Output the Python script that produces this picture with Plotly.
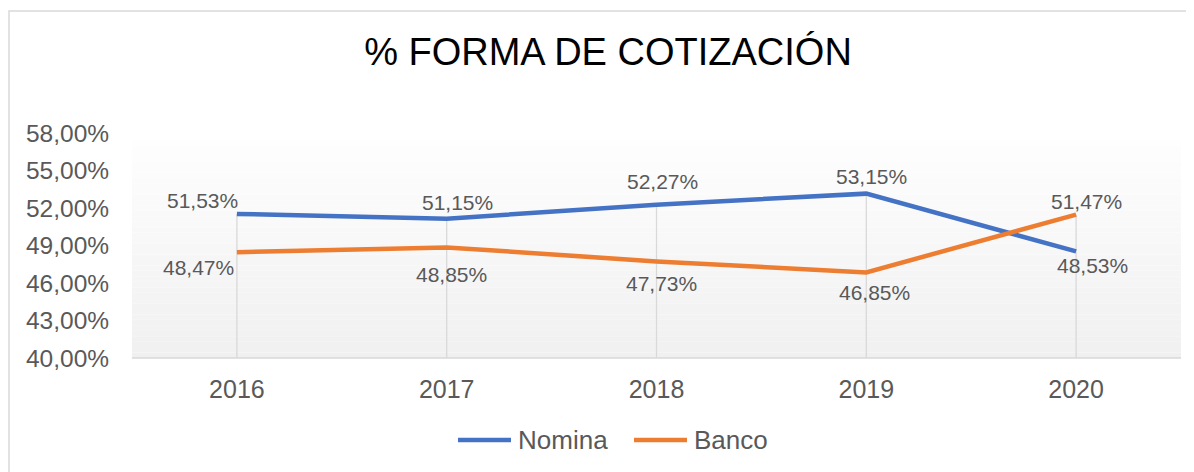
import plotly.graph_objects as go

years = ["2016", "2017", "2018", "2019", "2020"]
nomina = [51.53, 51.15, 52.27, 53.15, 48.53]
banco = [48.47, 48.85, 47.73, 46.85, 51.47]
nomina_labels = ["51,53%", "51,15%", "52,27%", "53,15%", "48,53%"]
banco_labels = ["48,47%", "48,85%", "47,73%", "46,85%", "51,47%"]
y_ticks = [40, 43, 46, 49, 52, 55, 58]
y_tick_labels = ["40,00%", "43,00%", "46,00%", "49,00%", "52,00%", "55,00%", "58,00%"]
series_names = ["Nomina", "Banco"]
series_colors = ["#4472C4", "#ED7D31"]

# label offsets in pixels (style only): (dx, dy) with dy positive = down
nom_off = [(-34, -13), (11, -16), (6, -23), (5, -17), (16, 14)]
ban_off = [(-38, 15), (5, 27), (5, 22), (8, 20), (10, -13)]

OFF = 8  # page body margin
W, H = 1194 - OFF, 472 - OFF
L = 132 - OFF
T = 133 - OFF
R = W - (1181 - OFF)
B = H - (358 - OFF)
pw, ph = W - L - R, H - T - B

def px_x(px):
    return (px - OFF - L) / pw

def px_y(py):
    return (H - B - (py - OFF)) / ph

FONT = "Liberation Sans, Arial"
GRAY = "#595959"

fig = go.Figure()

# drop lines
dx, dy = [], []
for i, yr in enumerate(years):
    dx += [yr, yr, None]
    dy += [40, max(nomina[i], banco[i]), None]
fig.add_trace(go.Scatter(x=dx, y=dy, mode="lines", line=dict(color="#d9d9d9", width=1.3),
                         showlegend=False, hoverinfo="skip"))

for name, vals, col in zip(series_names, [nomina, banco], series_colors):
    fig.add_trace(go.Scatter(x=years, y=vals, name=name, mode="lines",
                             line=dict(color=col, width=4.5), showlegend=False))

annotations = []
for vals, labels, offs in [(nomina, nomina_labels, nom_off), (banco, banco_labels, ban_off)]:
    for i, (v, lab, (ox, oy)) in enumerate(zip(vals, labels, offs)):
        annotations.append(dict(x=i, y=v, xref="x", yref="y", text=lab, showarrow=False,
                                xanchor="center", yanchor="middle", xshift=ox, yshift=-oy,
                                font=dict(family=FONT, size=21, color=GRAY)))

shapes = []
# gradient plot background
n = 40
top = px_y(140)
for k in range(n):
    y0 = top * k / n
    y1 = top * (k + 1) / n
    t = (k + 0.5) / n
    c = int(round(240 + (254 - 240) * t))
    shapes.append(dict(type="rect", xref="paper", yref="paper", x0=0, x1=1, y0=y0, y1=y1,
                       fillcolor=f"rgb({c},{c},{c})", line=dict(width=0), layer="below"))
# x axis line
shapes.append(dict(type="line", xref="paper", yref="paper", x0=0, x1=1, y0=0, y1=0,
                   line=dict(color="#d9d9d9", width=1.5), layer="above"))
# outer border
shapes.append(dict(type="rect", xref="paper", yref="paper",
                   x0=px_x(9), x1=px_x(1200), y0=px_y(490), y1=px_y(11),
                   line=dict(color="#d9d9d9", width=1.5), fillcolor="rgba(0,0,0,0)"))

# legend (drawn manually to match long line swatches)
leg_items = [(458, 511, 516), (634, 687, 692)]
for (lx0, lx1, tx), name, col in zip(leg_items, series_names, series_colors):
    shapes.append(dict(type="line", xref="paper", yref="paper",
                       x0=px_x(lx0), x1=px_x(lx1), y0=px_y(440), y1=px_y(440),
                       line=dict(color=col, width=4.5)))
    annotations.append(dict(x=px_x(tx), y=px_y(440), xref="paper", yref="paper", text=name,
                            showarrow=False, xanchor="left", yanchor="middle",
                            font=dict(family=FONT, size=26, color=GRAY)))

fig.update_layout(
    width=W, height=H,
    margin=dict(l=L, r=R, t=T, b=B),
    paper_bgcolor="white", plot_bgcolor="rgba(0,0,0,0)",
    showlegend=False,
    title=dict(text="% FORMA DE COTIZACIÓN", x=(608 - OFF) / W, xanchor="center",
               y=1 - (52 - OFF) / H, yanchor="middle",
               font=dict(family=FONT, size=38, color="#000000")),
    xaxis=dict(type="category", showgrid=False, zeroline=False, showline=False,
               tickfont=dict(family=FONT, size=25, color=GRAY),
               ticks="outside", ticklen=9, tickcolor="rgba(0,0,0,0)",
               range=[-0.5, 4.5]),
    yaxis=dict(range=[40, 58], tickvals=y_ticks, ticktext=y_tick_labels,
               showgrid=False, zeroline=False, showline=False,
               tickfont=dict(family=FONT, size=24.5, color=GRAY),
               ticks="outside", ticklen=17, tickcolor="rgba(0,0,0,0)"),
    shapes=shapes,
    annotations=annotations,
)

fig.write_html("out.html")
